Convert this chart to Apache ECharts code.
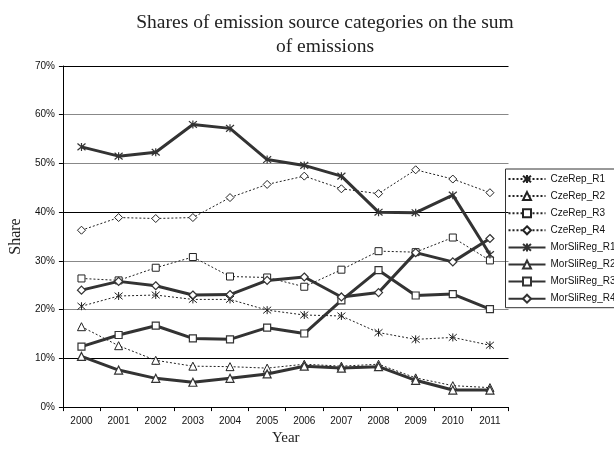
<!DOCTYPE html>
<html>
<head>
<meta charset="utf-8">
<script src="https://cdn.jsdelivr.net/npm/echarts@6/dist/echarts.min.js"></script>
<style>
  html, body { margin: 0; padding: 0; background: #fff; }
  #chart { width: 614px; height: 451px; }
</style>
</head>
<body>
<div id="chart"></div>
<script>
// Years on the category axis
const years = ['2000','2001','2002','2003','2004','2005','2006','2007','2008','2009','2010','2011'];

// Shares (%) per region and source category
const czeRepR1 = [20.7, 22.8, 23.0, 22.1, 22.1, 19.9, 18.9, 18.7, 15.3, 13.9, 14.3, 12.7];
const czeRepR2 = [16.5, 12.6, 9.6, 8.4, 8.3, 8.0, 8.8, 8.4, 8.8, 6.0, 4.4, 4.0];
const czeRepR3 = [26.4, 26.0, 28.6, 30.8, 26.8, 26.6, 24.7, 28.2, 32.0, 31.8, 34.8, 30.1];
const czeRepR4 = [36.3, 38.9, 38.7, 38.9, 43.0, 45.7, 47.4, 44.8, 43.8, 48.7, 46.8, 44.0];
const morSliRegR1 = [53.4, 51.5, 52.3, 58.0, 57.2, 50.8, 49.6, 47.4, 40.0, 39.9, 43.5, 31.3];
const morSliRegR2 = [10.4, 7.6, 5.9, 5.1, 5.9, 6.8, 8.4, 8.0, 8.3, 5.5, 3.5, 3.5];
const morSliRegR3 = [12.4, 14.8, 16.7, 14.1, 13.9, 16.3, 15.1, 21.9, 28.1, 22.9, 23.2, 20.1];
const morSliRegR4 = [24.0, 25.8, 24.9, 23.0, 23.1, 26.0, 26.7, 22.6, 23.5, 31.7, 29.8, 34.6];

// Y axis range (percent)
const yMin = 0, yMax = 70, yStep = 10;

const SERIF = '"Liberation Serif", "Times New Roman", serif';
const SANS = '"Liberation Sans", Arial, sans-serif';

// six-armed asterisk marker
const STAR = 'path://M0,0L10,10M0,10L10,0M5,-1L5,11';

function dotted(name, data, symbol, size) {
  return {
    name, type: 'line', data,
    symbol, symbolSize: size,
    color: '#222',
    lineStyle: { color: '#222', width: 1, type: [2, 2] },
    itemStyle: { color: '#fff', borderColor: '#222', borderWidth: 1 },
    z: 2
  };
}
function solid(name, data, symbol, size) {
  return {
    name, type: 'line', data,
    symbol, symbolSize: size,
    color: '#333',
    lineStyle: { color: '#333', width: 3 },
    itemStyle: { color: '#fff', borderColor: '#333', borderWidth: 1.2 },
    z: 3
  };
}

const chart = echarts.init(document.getElementById('chart'), null, { renderer: 'canvas' });
chart.setOption({
  animation: false,
  backgroundColor: '#fff',
  title: {
    text: 'Shares of emission source categories on the sum\nof emissions',
    left: 320, top: 6, textAlign: 'center',
    textStyle: { fontFamily: SERIF, fontSize: 19.5, fontWeight: 'normal', color: '#222', lineHeight: 24 }
  },
  legend: {
    orient: 'vertical',
    left: 505.5, top: 169,
    padding: [5, 10, 4, 2],
    itemWidth: 37, itemHeight: 10, itemGap: 7.1,
    borderColor: '#333', borderWidth: 1,
    textStyle: { fontFamily: SANS, fontSize: 10, color: '#111' },
    data: ['CzeRep_R1','CzeRep_R2','CzeRep_R3','CzeRep_R4','MorSliReg_R1','MorSliReg_R2','MorSliReg_R3','MorSliReg_R4']
  },
  grid: { left: 61.5, right: 105.5, top: 66, bottom: 41.5 },
  xAxis: {
    type: 'category', data: years, boundaryGap: true,
    name: 'Year', nameLocation: 'middle', nameGap: 21,
    nameTextStyle: { fontFamily: SERIF, fontSize: 15, color: '#222' },
    axisLine: { lineStyle: { color: '#000', width: 1 } },
    axisTick: { show: true, length: 4, lineStyle: { color: '#000' } },
    axisLabel: { fontFamily: SANS, fontSize: 10, color: '#111', margin: 9 },
    splitLine: { show: false }
  },
  yAxis: {
    type: 'value', min: yMin, max: yMax, interval: yStep,
    name: 'Share', nameLocation: 'middle', nameGap: 37, nameRotate: 90,
    nameTextStyle: { fontFamily: SERIF, fontSize: 16, color: '#222' },
    axisLine: { show: true, lineStyle: { color: '#000', width: 1 } },
    axisTick: { show: true, length: 4, lineStyle: { color: '#000' } },
    axisLabel: { fontFamily: SANS, fontSize: 10, color: '#111', margin: 8, formatter: '{value}%' },
    splitLine: { show: true, lineStyle: { color: ['#888', '#000', '#888'], width: 1.2 } }
  },
  series: [
    dotted('CzeRep_R1', czeRepR1, STAR, 8),
    dotted('CzeRep_R2', czeRepR2, 'triangle', 8),
    dotted('CzeRep_R3', czeRepR3, 'rect', 7),
    dotted('CzeRep_R4', czeRepR4, 'diamond', 8),
    solid('MorSliReg_R1', morSliRegR1, STAR, 8),
    solid('MorSliReg_R2', morSliRegR2, 'triangle', 8),
    solid('MorSliReg_R3', morSliRegR3, 'rect', 7),
    solid('MorSliReg_R4', morSliRegR4, 'diamond', 8)
  ]
});
</script>
</body>
</html>
